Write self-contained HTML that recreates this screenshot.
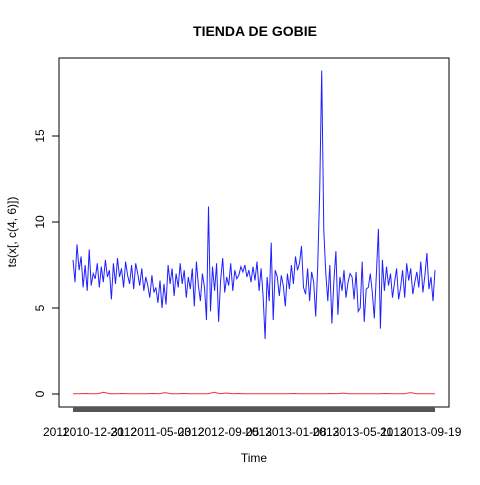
<!DOCTYPE html>
<html><head><meta charset="utf-8"><style>
html,body{margin:0;padding:0;background:#fff;}
svg text{font-family:"Liberation Sans",Arial,sans-serif;}
</style></head><body>
<svg id="chart" width="480" height="480" xmlns="http://www.w3.org/2000/svg">
<text x="255" y="36" font-size="14" font-weight="bold" text-anchor="middle">TIENDA DE GOBIE</text>
<rect x="59" y="58" width="390" height="349" fill="none" stroke="#000" stroke-width="1"/>
<text x="254" y="462" font-size="12" text-anchor="middle">Time</text>
<text transform="translate(16,232) rotate(-90)" font-size="12" text-anchor="middle">ts(x[, c(4, 6)])</text>
<rect x="73" y="407" width="362" height="5" fill="#555"/>
<g id="yaxis"></g><g id="xaxis"></g>
<polyline id="red" fill="none" stroke="#e33" stroke-width="1"/>
<polyline id="blue" fill="none" stroke="#2020ff" stroke-width="1"/>
</svg>
<script>
const yTicks=[0,5,10,15];
const xLabelsA=["2011","2012","2012","2013","2013","2013"];
const xLabelsB=["2010-12-31","2011-05-03","2012-09-05","2013-01-08","2013-05-11","2013-09-19"];
const blueValues=[7.8,6.5,8.7,7.2,8,6.2,7.5,6,8.4,6.3,7,6.7,7.6,6.2,
7.4,6.5,7.8,6.8,7.2,5.5,7.6,6.4,7.9,6.8,7.3,6.2,7.7,6.9,6.4,7.5,6.1,7.6,7.0,6.3,
7.3,6.0,6.8,6.3,5.6,6.9,5.9,6.2,5.3,6.6,5.0,6.4,5.2,7.5,6.4,7.3,5.7,7.0,6.2,7.6,
6.4,7.2,5.6,6.8,6.1,7.3,5.1,7.7,6.3,5.4,7.0,6.2,4.3,10.9,4.8,
7.4,6.0,7.6,4.2,6.6,7.9,5.9,6.8,6.3,7.6,6.0,7.2,6.7,6.9,7.4,7.1,7.5,6.8,7.2,6.5,
7.4,6.6,7.7,6.0,7.3,5.7,3.2,6.8,5.4,8.8,4.3,7.2,6.8,5.7,6.9,6.3,5.1,7.0,6.1,7.5,
6.4,8.0,7.2,7.6,8.6,6.2,5.8,7.3,5.4,7.1,6.5,4.5,7.4,11.8,18.8,9.5,7.0,
5.4,7.5,4.1,6.6,8.3,4.6,6.8,6.0,7.2,5.6,6.5,7.0,6.8,5.5,7.1,4.8,5.0,7.7,4.2,6.1,6.2,7.0,5.9,
4.4,7.0,9.6,3.8,7.8,6.0,7.4,6.3,7.0,5.6,6.5,7.3,5.5,6.2,7.2,5.6,7.6,6.6,7.3,5.8,
6.5,7.1,6.2,7.7,5.9,6.9,8.2,6.1,6.8,5.4,7.2];
const redValues=[0.02,0.02,0.03,0.02,0.02,0.1,0.02,0.02,0.03,0.02,0.02,0.02,0.02,0.03,0.02,0.08,0.02,0.02,0.03,0.02,
0.02,0.02,0.02,0.1,0.02,0.06,0.02,0.03,0.02,0.02,0.02,0.02,0.02,0.02,0.02,0.02,0.03,0.02,0.02,0.02,
0.02,0.02,0.03,0.02,0.05,0.02,0.02,0.02,0.02,0.02,0.02,0.03,0.02,0.02,0.02,0.08,0.02,0.02,0.02,0.02];
const svg=document.getElementById('chart');const NS='http://www.w3.org/2000/svg';
const X0=73,X1=435;
function yScale(v){return 394-v*17.2;}
function xScale(i,n){return X0+i*(X1-X0)/(n-1);}
const yg=document.getElementById('yaxis');
let al=document.createElementNS(NS,'line');


al.setAttribute('x1',59);al.setAttribute('x2',59);al.setAttribute('y1',yScale(0));al.setAttribute('y2',yScale(15));al.setAttribute('stroke','#000');yg.appendChild(al);
yTicks.forEach(v=>{
 const t=document.createElementNS(NS,'line');
 
 
 t.setAttribute('x1',52);t.setAttribute('x2',59);t.setAttribute('y1',yScale(v));t.setAttribute('y2',yScale(v));t.setAttribute('stroke','#000');yg.appendChild(t);
 const l=document.createElementNS(NS,'text');
 
 
 l.setAttribute('transform','translate(44,'+yScale(v)+') rotate(-90)');l.setAttribute('text-anchor','middle');l.setAttribute('font-size','12');l.textContent=v;yg.appendChild(l);
});
const xg=document.getElementById('xaxis');
xLabelsB.forEach((d,i)=>{
 const x=X0+i*67.4;
 const a=document.createElementNS(NS,'text');
 
 
 a.setAttribute('x',x-30);a.setAttribute('y',436);a.setAttribute('font-size','12');a.textContent=xLabelsA[i];xg.appendChild(a);
 const b=document.createElementNS(NS,'text');
 
 
 b.setAttribute('x',x-10);b.setAttribute('y',436);b.setAttribute('font-size','12');b.textContent=d;xg.appendChild(b);
});
document.getElementById('blue').setAttribute('points',blueValues.map((v,i)=>xScale(i,blueValues.length).toFixed(1)+','+yScale(v).toFixed(1)).join(' '));
document.getElementById('red').setAttribute('points',redValues.map((v,i)=>xScale(i,redValues.length).toFixed(1)+','+yScale(v).toFixed(1)).join(' '));
</script>
</body></html>
